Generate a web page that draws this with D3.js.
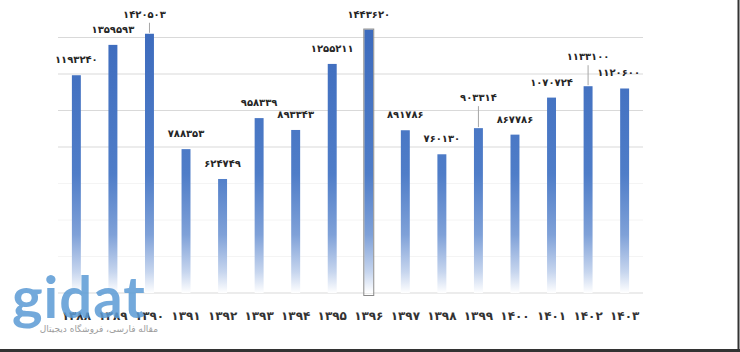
<!DOCTYPE html>
<html>
<head>
<meta charset="utf-8">
<script src="https://cdn.jsdelivr.net/npm/d3@7"></script>
<style>
  body { margin: 0; background: #fff; }
  svg { display: block; }
</style>
</head>
<body>
<svg id="canvas" width="740" height="352"></svg>
<script>
// years (solar hijri) and totals
const years = [1388, 1389, 1390, 1391, 1392, 1393, 1394, 1395, 1396, 1397, 1398, 1399, 1400, 1401, 1402, 1403];
const totals = [1193240, 1359593, 1420503, 788353, 624749, 958339, 893343, 1255211, 1443620, 891786, 760130, 903314, 867786, 1070724, 1133100, 1120600];
const gridValues = [200000, 400000, 600000, 800000, 1000000, 1200000, 1400000];

// persian digits
const fa = (n) => String(n).replace(/\d/g, d => '۰۱۲۳۴۵۶۷۸۹'[d]);

let canvas = d3.select('#canvas');

let x = d3.scaleBand()
    .domain(years)
    .range([58, 643])
    .paddingInner(0.755)
    .paddingOuter(0.38);

let y = d3.scaleLinear()
    .domain([0, 1400000])
    .range([293, 37.5]);

// gradient fading to white near the axis
let grad = canvas.append('defs').append('linearGradient')
    .attr('id', 'barFade')
    .attr('gradientUnits', 'userSpaceOnUse')
    .attr('x1', 0).attr('x2', 0)
    .attr('y1', y(1450000)).attr('y2', y(0));
[[0, '#3d6bbd'], [0.55, '#4f7dc8'], [0.78, '#7fa1d8'], [0.92, '#c6d5ee'], [1, '#ffffff']]
    .forEach(s => grad.append('stop').attr('offset', s[0]).attr('stop-color', s[1]));

// grid lines
canvas.append('g')
    .selectAll('line')
    .data(gridValues)
    .enter()
    .append('line')
    .attr('x1', 58).attr('x2', 643)
    .attr('y1', d => y(d)).attr('y2', d => y(d))
    .attr('stroke', d => d >= 800000 ? '#d9d9d9' : '#f4f4f4')
    .attr('stroke-width', 1);

// baseline
canvas.append('line')
    .attr('x1', 58).attr('x2', 643)
    .attr('y1', y(0)).attr('y2', y(0))
    .attr('stroke', '#d9d9d9');

// bars
canvas.append('g')
    .selectAll('rect')
    .data(years)
    .enter()
    .append('rect')
    .attr('x', d => x(d))
    .attr('width', x.bandwidth())
    .attr('y', (d, i) => y(totals[i]))
    .attr('height', (d, i) => y(0) - y(totals[i]))
    .attr('fill', 'url(#barFade)');

// selected bar outline (1396)
let sel = years.indexOf(1396);
canvas.append('rect')
    .attr('x', x(1396) - 0.5)
    .attr('y', y(totals[sel]) - 0.5)
    .attr('width', x.bandwidth() + 1)
    .attr('height', y(0) - y(totals[sel]) + 3)
    .attr('fill', 'none')
    .attr('stroke', '#8a8a8a')
    .attr('stroke-width', 1);

// label nudges [dx, dy] for labels pushed away from their bar
const labelNudge = { 1390: [-5, -4], 1399: [0, -15], 1402: [0, -14], 1403: [-6, 0] };
const leaderYears = [1390, 1399, 1402];

let labels = canvas.append('g');
years.forEach((yr, i) => {
    let cx = x(yr) + x.bandwidth() / 2;
    let top = y(totals[i]);
    let nd = labelNudge[yr] || [0, 0];
    let ly = top - 12 + nd[1];
    if (leaderYears.includes(yr)) {
        labels.append('line')
            .attr('x1', cx).attr('x2', cx)
            .attr('y1', ly + 5).attr('y2', top - 1)
            .attr('stroke', '#a6a6a6');
    }
    labels.append('text')
        .attr('x', cx + nd[0])
        .attr('y', ly)
        .attr('text-anchor', 'middle')
        .attr('font-family', 'DejaVu Sans')
        .attr('font-weight', 'bold')
        .attr('font-size', 10)
        .attr('fill', '#262626')
        .text(fa(totals[i]));
});

// category labels
canvas.append('g')
    .selectAll('text')
    .data(years)
    .enter()
    .append('text')
    .attr('x', d => x(d) + x.bandwidth() / 2)
    .attr('y', 320)
    .attr('text-anchor', 'middle')
    .attr('font-family', 'DejaVu Sans')
    .attr('font-weight', 'bold')
    .attr('font-size', 12)
    .attr('fill', '#333')
    .text(d => fa(d));

// frame edges of the screenshot
canvas.append('line').attr('x1', 0).attr('x2', 740).attr('y1', 350.5).attr('y2', 350.5)
    .attr('stroke', '#333').attr('stroke-width', 3);
canvas.append('line').attr('x1', 738.5).attr('x2', 738.5).attr('y1', 0).attr('y2', 352)
    .attr('stroke', '#333').attr('stroke-width', 2);

// watermark
let wm = canvas.append('g').attr('opacity', 0.85);
wm.append('text')
    .attr('x', 12).attr('y', 318)
    .attr('font-family', 'Lato')
    .attr('font-weight', 'bold')
    .attr('font-size', 58)
    .attr('fill', '#5b9bd5')
    .attr('letter-spacing', 1)
    .text('gidat');
wm.append('text')
    .attr('x', 158).attr('y', 332)
    .attr('direction', 'rtl')
    .attr('font-family', 'DejaVu Sans')
    .attr('font-size', 9)
    .attr('fill', '#8c8c8c')
    .text('مقاله فارسی، فروشگاه دیجیتال');
</script>
</body>
</html>
